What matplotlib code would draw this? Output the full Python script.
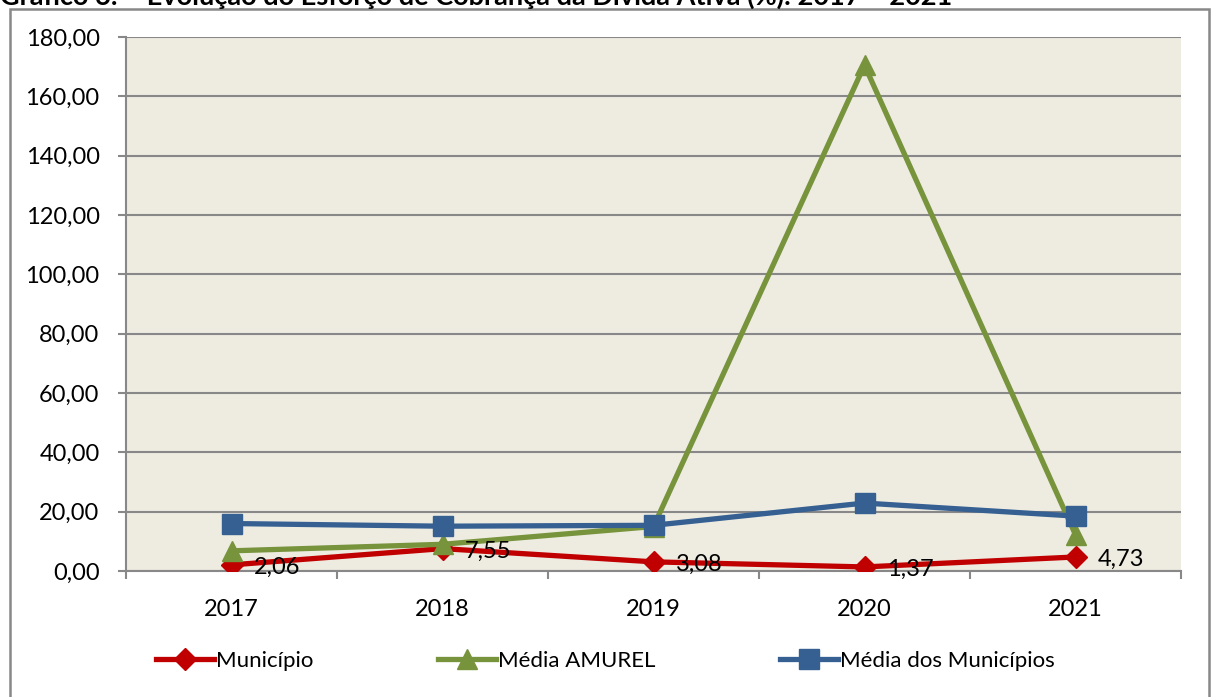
import numpy as np
import matplotlib.pyplot as plt
from matplotlib.patches import Rectangle

years = ["2017", "2018", "2019", "2020", "2021"]
municipio = [2.06, 7.55, 3.08, 1.37, 4.73]
media_amurel = [6.8, 9.0, 15.0, 170.5, 12.2]
media_municipios = [16.0, 15.1, 15.4, 22.9, 18.5]

plt.rcParams['font.family'] = ['Lato', 'DejaVu Sans']

fig = plt.figure(figsize=(12.11, 6.97), dpi=100)
ax = fig.add_axes([126/1211, 1-571/697, (1181-126)/1211, (571-37)/697])
ax.set_facecolor('#EEECE1')

x = np.arange(len(years))
ax.plot(x, municipio, color='#C00000', lw=3.8, marker='D', ms=11, label='Município', zorder=3)
ax.plot(x, media_amurel, color='#77933C', lw=3.8, marker='^', ms=15, label='Média AMUREL', zorder=3)
ax.plot(x, media_municipios, color='#366092', lw=3.8, marker='s', ms=14, label='Média dos Municípios', zorder=4)

for xi, v in zip(x, municipio):
    ax.annotate(f"{v:.2f}".replace('.', ','), (xi, v), xytext=(16, -2), textcoords='offset points',
                ha='left', va='center', fontsize=17, zorder=5)

ax.set_xlim(-0.5, 4.5)
ax.set_ylim(0, 180)
ax.set_yticks(np.arange(0, 181, 20))
ax.set_yticklabels([f"{v:.2f}".replace('.', ',') for v in np.arange(0, 181, 20)])
ax.set_xticks(x)
ax.set_xticklabels(years)
ax.set_xticks(np.arange(-0.5, 4.6, 1), minor=True)
ax.tick_params(axis='x', which='major', length=0, pad=20, labelsize=17)
ax.tick_params(axis='x', which='minor', length=6, width=1.5, color='#888888', direction='out')
ax.tick_params(axis='y', length=6, width=1.5, color='#888888', direction='out', pad=13, labelsize=17)
ax.grid(axis='y', color='#888888', lw=1.5)
ax.set_axisbelow(True)
for s in ['top', 'right']:
    ax.spines[s].set_visible(False)
for s in ['left', 'bottom']:
    ax.spines[s].set_color('#888888')
    ax.spines[s].set_linewidth(1.5)

fig.legend(loc='center', bbox_to_anchor=(0.5, 1-661/697), ncol=3, frameon=False, fontsize=16,
           handlelength=2.6, handletextpad=0.1, columnspacing=5.6)

fig.patches.append(Rectangle((9.5/1211, -0.05), 1200/1211, 1.05-8.5/697, transform=fig.transFigure,
                             fill=False, edgecolor='#888888', lw=1.8))

fig.text(0.0, 1-5/697, "Gráfico 6: – Evolução do Esforço de Cobrança da Dívida Ativa (%): 2017 – 2021",
         fontsize=19.5, fontweight='bold', va='baseline', ha='left')

fig.savefig('out.png', dpi=100)
